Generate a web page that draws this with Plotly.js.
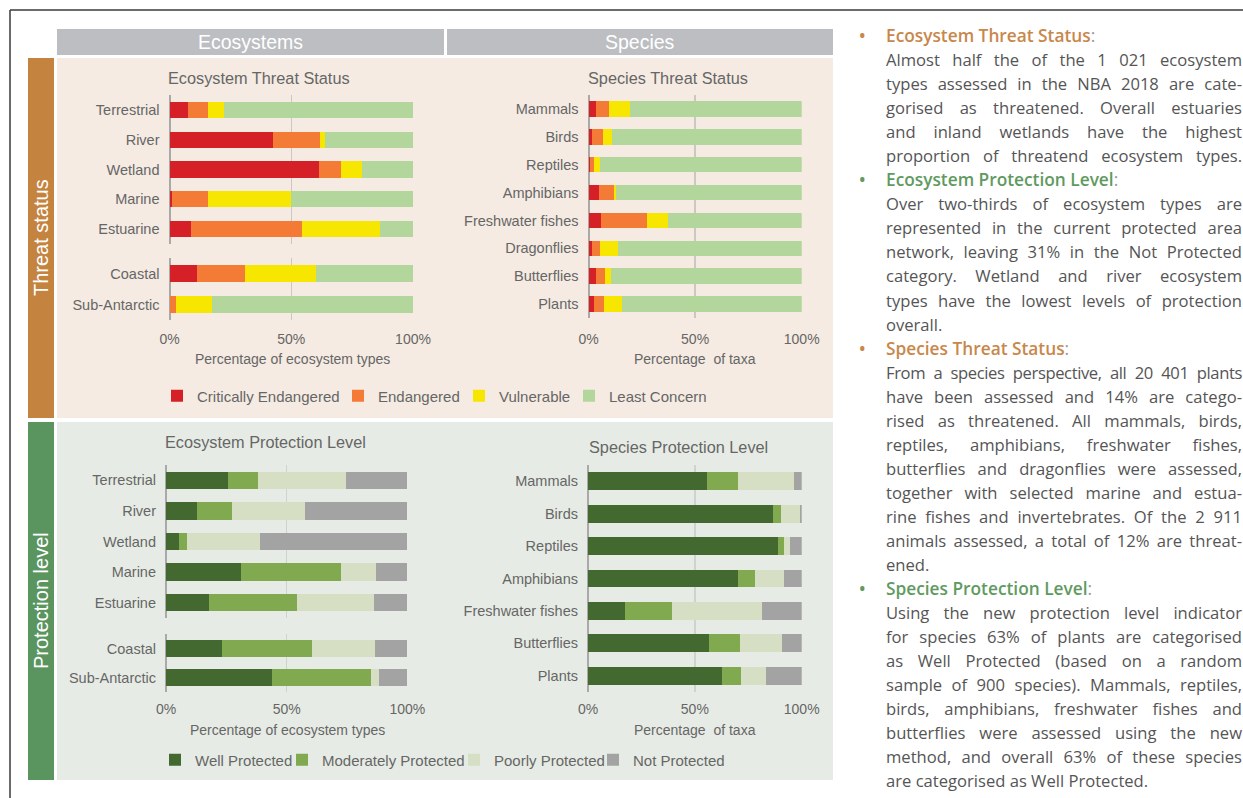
<!DOCTYPE html>
<html>
<head>
<meta charset="utf-8">
<script src="https://cdn.plot.ly/plotly-3.0.1.min.js"></script>
<style>
html,body{margin:0;padding:0;background:#fff;}
#wrap{position:relative;width:1243px;height:798px;overflow:hidden;}
#chart{position:absolute;left:0;top:0;width:1243px;height:798px;}
#notes{position:absolute;left:886px;top:24px;width:356px;font-family:"Open Sans",Lato,sans-serif;font-size:16.6px;line-height:24.05px;color:#555;}
#notes .l{white-space:nowrap;text-align:justify;text-align-last:justify;}
#notes .e{text-align-last:left;}
#notes .h{position:relative;font-weight:600;white-space:nowrap;font-size:17.3px;}
#notes .h::before{content:"\2022";position:absolute;left:-27px;top:0;}
#notes .o{color:#c8874b;}
#notes .g{color:#5f9a5f;}
#notes .c{color:#999;font-weight:400;}
#notes .t{word-spacing:-3px;letter-spacing:-0.4px;}
</style>
</head>
<body>
<div id="wrap">
<div id="chart"></div>
<div id="notes">
<div class="h o">Ecosystem Threat Status<span class="c">:</span></div>
<div class="l">Almost half the of the 1 021 ecosystem</div>
<div class="l">types assessed in the NBA 2018 are cate-</div>
<div class="l">gorised as threatened. Overall estuaries</div>
<div class="l">and inland wetlands have the highest</div>
<div class="l">proportion of threatend ecosystem types.</div>
<div class="h g">Ecosystem Protection Level<span class="c">:</span></div>
<div class="l">Over two-thirds of ecosystem types are</div>
<div class="l">represented in the current protected area</div>
<div class="l">network, leaving 31% in the Not Protected</div>
<div class="l">category. Wetland and river ecosystem</div>
<div class="l">types have the lowest levels of protection</div>
<div class="l e">overall.</div>
<div class="h o">Species Threat Status<span class="c">:</span></div>
<div class="l t">From a species perspective, all 20 401 plants</div>
<div class="l">have been assessed and 14% are catego-</div>
<div class="l">rised as threatened. All mammals, birds,</div>
<div class="l">reptiles, amphibians, freshwater fishes,</div>
<div class="l">butterflies and dragonflies were assessed,</div>
<div class="l">together with selected marine and estua-</div>
<div class="l">rine fishes and invertebrates. Of the 2 911</div>
<div class="l">animals assessed, a total of 12% are threat-</div>
<div class="l e">ened.</div>
<div class="h g">Species Protection Level<span class="c">:</span></div>
<div class="l">Using the new protection level indicator</div>
<div class="l">for species 63% of plants are categorised</div>
<div class="l">as Well Protected (based on a random</div>
<div class="l">sample of 900 species). Mammals, reptiles,</div>
<div class="l">birds, amphibians, freshwater fishes and</div>
<div class="l">butterflies were assessed using the new</div>
<div class="l">method, and overall 63% of these species</div>
<div class="l e">are categorised as Well Protected.</div>
</div>
</div>
<script>
// ---------------- DATA ----------------
const ecoCats = ['Terrestrial', 'River', 'Wetland', 'Marine', 'Estuarine', 'Coastal', 'Sub-Antarctic'];
const ecoMainCount = 5;

const threatNames = ['Critically Endangered', 'Endangered', 'Vulnerable', 'Least Concern'];
const ecoCR = [7.4, 42.6, 61.5, 1.1, 8.9, 11.3, 0];
const ecoEN = [8.6, 19.1, 8.9, 14.8, 45.6, 19.6, 2.6];
const ecoVU = [6.4, 2.2, 8.7, 34.0, 31.8, 29.3, 15.0];
const ecoLC = [77.6, 36.1, 20.9, 50.1, 13.7, 39.8, 82.4];

const spThreatCats = ['Mammals', 'Birds', 'Reptiles', 'Amphibians', 'Freshwater fishes', 'Dragonflies', 'Butterflies', 'Plants'];
const spCR = [3.3, 1.6, 0.6, 4.8, 5.9, 1.6, 3.4, 2.5];
const spEN = [6.4, 5.0, 1.9, 7.3, 21.4, 3.6, 4.2, 4.8];
const spVU = [9.7, 4.5, 2.8, 0.6, 9.8, 8.7, 3.0, 8.6];
const spLC = [80.6, 88.9, 94.7, 87.3, 62.9, 86.1, 89.4, 84.1];

const protNames = ['Well Protected', 'Moderately Protected', 'Poorly Protected', 'Not Protected'];
const ecoWP = [25.6, 12.7, 5.5, 30.9, 18.0, 23.4, 43.9];
const ecoMP = [12.7, 14.8, 3.0, 41.6, 36.3, 37.0, 41.2];
const ecoPP = [36.5, 30.0, 30.4, 14.6, 31.9, 26.4, 3.0];
const ecoNP = [25.2, 42.5, 61.1, 12.9, 13.8, 13.2, 11.9];

const spProtCats = ['Mammals', 'Birds', 'Reptiles', 'Amphibians', 'Freshwater fishes', 'Butterflies', 'Plants'];
const spWP = [55.6, 86.5, 89.0, 70.1, 17.4, 56.5, 62.9];
const spMP = [14.7, 3.9, 2.8, 8.1, 21.9, 14.7, 8.6];
const spPP = [26.3, 8.8, 2.8, 13.6, 41.9, 19.6, 11.6];
const spNP = [3.4, 0.8, 5.4, 8.2, 18.8, 9.2, 16.9];

const pctTicks = [0, 50, 100];
const pctLabels = ['0%', '50%', '100%'];

// ---------------- STYLE ----------------
const W = 1243, H = 798;
const FONT = 'Liberation Sans, Arial, Helvetica, sans-serif';
const TXT = '#666666';
const threatColors = ['#d62027', '#f47b35', '#f7e600', '#b3d69c'];
const protColors = ['#446930', '#80a950', '#d6dfc4', '#a3a3a3'];
const px = v => v / W;
const py = v => 1 - v / H;

function xAxis(l, r, anchor, labels, grid, standoff) {
  return {
    domain: [px(l), px(r)], range: [0, 100], anchor: anchor,
    tickmode: 'array', tickvals: pctTicks, ticktext: pctLabels, showticklabels: labels,
    ticks: '', ticklabelstandoff: standoff,
    showgrid: true, gridcolor: grid, gridwidth: 1.5,
    zeroline: true, zerolinecolor: '#a9a9a9', zerolinewidth: 2,
    showline: false, fixedrange: true,
    tickfont: {family: FONT, size: 14, color: TXT}
  };
}
function yAxis(t, b, anchor, cats) {
  return {
    domain: [py(b), py(t)], anchor: anchor, type: 'category',
    categoryorder: 'array', categoryarray: cats,
    range: [cats.length - 0.5, -0.5],
    showgrid: false, zeroline: false, showline: false, ticks: '',
    ticklabelstandoff: 9, fixedrange: true,
    tickfont: {family: FONT, size: 14.5, color: TXT}
  };
}
function bars(xa, ya, cats, series, names, colors, width, legendName, showLeg, lws) {
  return series.map((vals, i) => ({
    type: 'bar', orientation: 'h', y: cats, x: vals, name: names[i],
    marker: {color: colors[i], line: {width: 0}}, width: width,
    xaxis: xa, yaxis: ya, showlegend: showLeg, legend: legendName,
    legendwidth: lws[i], hoverinfo: 'skip'
  }));
}

const threatEco = [ecoCR, ecoEN, ecoVU, ecoLC];
const protEco = [ecoWP, ecoMP, ecoPP, ecoNP];
const mainCats = ecoCats.slice(0, ecoMainCount), extraCats = ecoCats.slice(ecoMainCount);
const headPart = s => s.slice(0, ecoMainCount), tailPart = s => s.slice(ecoMainCount);
const threatLW = [136, 76, 65, 100];
const protLW = [82, 127, 94, 100];

const data = [].concat(
  bars('x', 'y', mainCats, threatEco.map(headPart), threatNames, threatColors, 0.54, 'legend', true, threatLW),
  bars('x2', 'y2', extraCats, threatEco.map(tailPart), threatNames, threatColors, 0.58, 'legend', false, threatLW),
  bars('x3', 'y3', spThreatCats, [spCR, spEN, spVU, spLC], threatNames, threatColors, 0.56, 'legend', false, threatLW),
  bars('x4', 'y4', mainCats, protEco.map(headPart), protNames, protColors, 0.57, 'legend2', true, protLW),
  bars('x5', 'y5', extraCats, protEco.map(tailPart), protNames, protColors, 0.59, 'legend2', false, protLW),
  bars('x6', 'y6', spProtCats, [spWP, spMP, spPP, spNP], protNames, protColors, 0.55, 'legend2', false, protLW)
);

const gT = '#cbc7c3', gP = '#cfd3cf';

function rect(x0, y0, x1, y1, color) {
  return {type: 'rect', xref: 'paper', yref: 'paper', x0: px(x0), x1: px(x1), y0: py(y1), y1: py(y0),
          fillcolor: color, line: {width: 0}, layer: 'below'};
}
function seg(x0, y0, x1, y1) {
  return {type: 'line', xref: 'paper', yref: 'paper', x0: px(x0), x1: px(x1), y0: py(y0), y1: py(y1),
          line: {color: '#3a3a3a', width: 1.5}, layer: 'above'};
}
function note(text, x, y, size, color, angle) {
  return {text: text, xref: 'paper', yref: 'paper', x: px(x), y: py(y), xanchor: 'center', yanchor: 'middle',
          showarrow: false, textangle: angle || 0, font: {family: FONT, size: size, color: color}};
}

const layout = {
  width: W, height: H, margin: {l: 0, r: 0, t: 0, b: 0},
  paper_bgcolor: '#ffffff', plot_bgcolor: 'rgba(0,0,0,0)',
  barmode: 'stack', bargap: 0, showlegend: true, dragmode: false,
  font: {family: FONT, color: TXT},
  xaxis: xAxis(169.5, 413, 'y', false, gT, 9),
  yaxis: yAxis(95, 244, 'x', mainCats),
  xaxis2: xAxis(169.5, 413, 'y2', true, gT, 9),
  yaxis2: yAxis(258, 320, 'x2', extraCats),
  xaxis3: xAxis(588.5, 801.7, 'y3', true, gT, 11),
  yaxis3: yAxis(95, 318, 'x3', spThreatCats),
  xaxis4: xAxis(166, 407.3, 'y4', false, gP, 7),
  yaxis4: yAxis(465, 618, 'x4', mainCats),
  xaxis5: xAxis(166, 407.3, 'y5', true, gP, 7),
  yaxis5: yAxis(634, 692, 'x5', extraCats),
  xaxis6: xAxis(588, 801.7, 'y6', true, gP, 7),
  yaxis6: yAxis(465, 692, 'x6', spProtCats),
  legend: {orientation: 'h', x: px(157), xanchor: 'left', y: py(396), yanchor: 'middle',
           bgcolor: 'rgba(0,0,0,0)', borderwidth: 0, itemwidth: 30, traceorder: 'normal',
           itemclick: false, itemdoubleclick: false, font: {family: FONT, size: 15, color: TXT}},
  legend2: {orientation: 'h', x: px(155), xanchor: 'left', y: py(760), yanchor: 'middle',
           bgcolor: 'rgba(0,0,0,0)', borderwidth: 0, itemwidth: 30, traceorder: 'normal',
           itemclick: false, itemdoubleclick: false, font: {family: FONT, size: 15, color: TXT}},
  shapes: [
    rect(57, 58, 833, 418, '#f5ebe2'),
    rect(57, 422, 833, 780, '#e6ece5'),
    rect(57, 29, 444, 55, '#bcbec1'),
    rect(447, 29, 833, 55, '#bcbec1'),
    rect(28, 58, 54, 418, '#c4843f'),
    rect(28, 422, 54, 780, '#5a9560'),
    seg(10, 10, 1243, 10),
    seg(10, 10, 10, 798)
  ],
  annotations: [
    note('Ecosystems', 250, 42, 19.5, '#ffffff'),
    note('Species', 640, 42, 19.5, '#ffffff'),
    note('Threat status', 41, 238, 20, '#ffffff', -90),
    note('Protection level', 41, 601, 20, '#ffffff', -90),
    note('Ecosystem Threat Status', 259, 78, 16.3, TXT),
    note('Species Threat Status', 668, 78, 16.3, TXT),
    note('Ecosystem Protection Level', 265, 442, 16.3, TXT),
    note('Species Protection Level', 678, 447, 16.3, TXT),
    note('Percentage of ecosystem types', 292, 359, 14, TXT),
    note('Percentage  of taxa', 695, 359, 14, TXT),
    note('Percentage of ecosystem types', 287, 730, 14, TXT),
    note('Percentage  of taxa', 695, 730, 14, TXT)
  ]
};

Plotly.newPlot('chart', data, layout, {staticPlot: true, displayModeBar: false});
</script>
</body>
</html>
